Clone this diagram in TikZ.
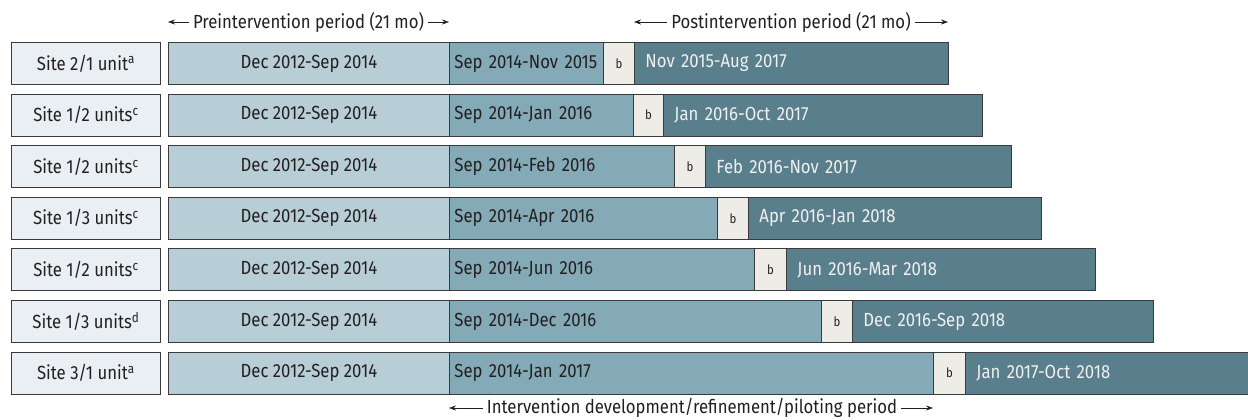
\documentclass[tikz,border=0pt]{standalone}
\usepackage{fontspec}
\setmainfont[FakeStretch=0.88]{Fira Sans}
\usetikzlibrary{arrows.meta}
\definecolor{labfill}{HTML}{E9EFF2}
\definecolor{prefill}{HTML}{B8CED7}
\definecolor{intfill}{HTML}{84A9B7}
\definecolor{bfill}{HTML}{EDECE6}
\definecolor{postfill}{HTML}{5A7F8C}
\definecolor{bordc}{HTML}{3A3A3A}
\definecolor{txt}{HTML}{231F20}
\begin{document}
\begin{tikzpicture}[x=1pt,y=-1pt,
  cell/.style={draw=bordc, line width=0.9pt, minimum height=42pt, inner ysep=0pt,
    anchor=north west, font=\fontsize{19}{22}\selectfont, text=txt},
  labc/.style={cell, fill=labfill, minimum width=149pt, inner xsep=0pt},
  prec/.style={cell, fill=prefill, minimum width=281pt, inner xsep=0pt},
  intc/.style={cell, fill=intfill, inner xsep=5pt, align=left},
  bc/.style={cell, fill=bfill, inner xsep=0pt, font=\fontsize{13}{15}\selectfont},
  postc/.style={cell, fill=postfill, inner xsep=11pt, align=left, text=white!94!black},
  toplab/.style={font=\fontsize{19}{22}\selectfont, text=txt, inner xsep=4pt},
  arr/.style={-{Stealth[length=7pt,width=5pt]}, line width=0.6pt, draw=txt}]
\clip (0,0) rectangle (1248,420);
\foreach \i/\lab/\sx/\ie/\be/\pe/\itx/\ptx in {
  1/{Site 2/1 unit}/a/603/634/948/{Sep 2014-Nov 2015}/{Nov 2015-Aug 2017},
  2/{Site 1/2 units}/c/633/663/982/{Sep 2014-Jan 2016}/{Jan 2016-Oct 2017},
  3/{Site 1/2 units}/c/674/705/1011/{Sep 2014-Feb 2016}/{Feb 2016-Nov 2017},
  4/{Site 1/3 units}/c/717/748/1041/{Sep 2014-Apr 2016}/{Apr 2016-Jan 2018},
  5/{Site 1/2 units}/c/754/786/1095/{Sep 2014-Jun 2016}/{Jun 2016-Mar 2018},
  6/{Site 1/3 units}/d/821/852/1153/{Sep 2014-Dec 2016}/{Dec 2016-Sep 2018},
  7/{Site 3/1 unit}/a/933/965/1270/{Sep 2014-Jan 2017}/{Jan 2017-Oct 2018}} {
  \pgfmathsetmacro\ty{42+51.6*(\i-1)}
  \pgfmathsetmacro\iw{\ie-449-10}
  \pgfmathsetmacro\bw{\be-\ie}
  \pgfmathsetmacro\pw{\pe-\be-22}
  \node[labc] (L\i) at (11,\ty) {\lab\textsuperscript{\sx}};
  \node[prec] (P\i) at (168,\ty) {Dec 2012-Sep 2014};
  \node[intc, text width=\iw pt] (I\i) at (449,\ty) {\mbox{\itx}};
  \node[bc, minimum width=\bw pt] (B\i) at (\ie,\ty) {b};
  \node[postc, text width=\pw pt] (Q\i) at (\be,\ty) {\mbox{\ptx}};
}
% top labels
\node[toplab] (pre) at (308.5,22) {Preintervention period (21 mo)};
\coordinate (preL) at (168,22);
\coordinate (preR) at (449,22);
\draw[arr] (pre.west) -- (preL);
\draw[arr] (pre.east) -- (preR);
\node[toplab] (post) at (791,22) {Postintervention period (21 mo)};
\coordinate (postL) at (634,22);
\coordinate (postR) at (948,22);
\draw[arr] (post.west) -- (postL);
\draw[arr] (post.east) -- (postR);
\node[toplab] (dev) at (692,408) {Intervention development/refinement/piloting period};
\coordinate (devL) at (449,408);
\coordinate (devR) at (933,408);
\draw[arr] (dev.west) -- (devL);
\draw[arr] (dev.east) -- (devR);
\end{tikzpicture}
\end{document}
